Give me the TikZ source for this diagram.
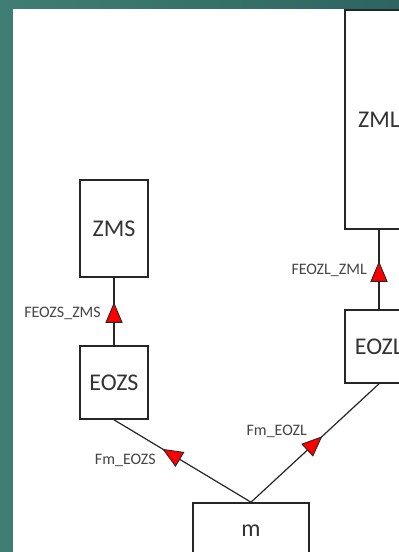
\documentclass[tikz,border=0pt]{standalone}
\usepackage{fontspec}
\setmainfont{Carlito}
\usetikzlibrary{arrows.meta,positioning,decorations.markings}
\definecolor{SlideTeal}{HTML}{3F7E73}
\definecolor{SlideTealDark}{HTML}{2D6560}
\definecolor{FlowRed}{HTML}{FF0000}
\definecolor{BoxLine}{HTML}{262626}
\definecolor{BoxText}{HTML}{333333}
\definecolor{LabelGray}{HTML}{454545}
\tikzset{
  block/.style={draw=BoxLine, line width=1.6pt, fill=white, minimum width=68pt,
                inner sep=0pt, text=BoxText, font=\fontsize{24}{28}\selectfont},
  link/.style={draw=BoxLine, line width=1.2pt, postaction={decorate},
               decoration={markings, mark=at position #1 with
                 {\filldraw[fill=FlowRed, draw=BoxLine, line width=0.9pt, line join=miter]
                    (0pt,0pt) -- (-19pt,8pt) -- (-19pt,-8pt) -- cycle;}}},
  flowlabel/.style={anchor=east, inner sep=0pt, text=LabelGray, font=\fontsize{16}{19}\selectfont},
}

\begin{document}
\begin{tikzpicture}[x=1pt,y=-1pt]
    \useasboundingbox (0,0) rectangle (399,552);
    % slide background
    \shade[left color=SlideTeal, right color=SlideTealDark] (0,0) rectangle (399,552);
    \fill[white] (13,9) rectangle (399,552);

    \node[block, minimum height=97pt] (zms) at (114,228.5) {ZMS};
    \node[block, minimum height=73pt] (eozs) at (114,382.5) {EOZS};
    \node[block, minimum height=219pt] (zml) at (379,119.5) {ZML};
    \node[block, minimum height=73pt] (eozl) at (379,346.5) {EOZL};
    \node[block, minimum width=116pt, minimum height=56pt] (m) at (251,531) {m};

    \draw[link=0.62] (eozs) -- (zms);
    \draw[link=0.59] (eozl) -- (zml);
    \draw[link=0.64] (m.north) -- (eozs.south);
    \draw[link=0.55] (m.north) -- (eozl.south);

    \node[flowlabel] (feozszms) at (101,313) {FEOZS\_ZMS};
    \node[flowlabel] (feozlzml) at (367,270) {FEOZL\_ZML};
    \node[flowlabel] (fmeozs) at (156,460) {Fm\_EOZS};
    \node[flowlabel] (fmeozl) at (307,431) {Fm\_EOZL};
  \end{tikzpicture}
\end{document}
